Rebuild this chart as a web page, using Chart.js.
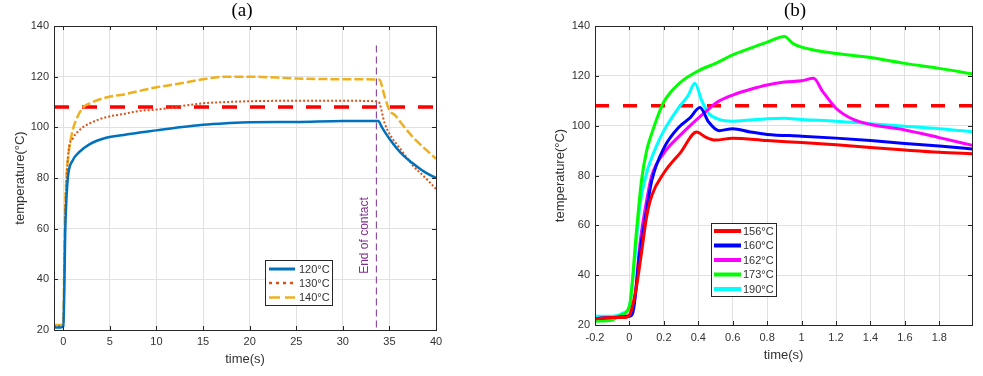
<!DOCTYPE html>
<html><head><meta charset="utf-8">
<script src="https://cdn.jsdelivr.net/npm/chart.js@4/dist/chart.umd.min.js"></script>
<style>
html,body{margin:0;padding:0;background:#fff;width:983px;height:376px;overflow:hidden}
.w{position:absolute;top:0}
</style></head><body>
<div class="w" style="left:0;width:460px;height:376px"><canvas id="ca" width="460" height="376"></canvas></div>
<div class="w" style="left:540px;width:443px;height:376px"><canvas id="cb" width="443" height="376"></canvas></div>
<script>
// ---------- Chart (a) data ----------
const labelsA = ['120°C', '130°C', '140°C'];
const t120 = [-1, -0.3, 0, 0.1, 0.2, 0.3, 0.5, 1, 1.7, 2.8, 4.6, 6.5, 8.2, 10, 12.5, 15, 17.5, 20, 25, 30, 33.8, 34.2, 35, 36.3, 37.5, 38.8, 40];
const v120 = [21, 21, 21.5, 35, 58, 69, 80.5, 86.9, 90.2, 93.3, 95.9, 97, 98, 98.8, 100, 101, 101.6, 102, 102.1, 102.5, 102.5, 100, 95.5, 89.6, 85.8, 82.3, 80];
const t130 = [-1, -0.3, 0, 0.1, 0.2, 0.3, 0.57, 1, 1.7, 2.8, 4.6, 6.5, 8.2, 10, 12.5, 15, 17.5, 20, 25, 30, 33.8, 34.5, 35, 36.3, 37.5, 38.8, 40];
const v130 = [21.5, 21.5, 22, 40, 65, 76, 90.9, 95.5, 98.8, 101.5, 104, 105.3, 106.5, 107, 108.3, 109.5, 110, 110.3, 110.5, 110.5, 110.2, 101.5, 97.5, 90.9, 85, 80.3, 75.7];
const t140 = [-1, -0.3, 0, 0.1, 0.2, 0.3, 0.57, 1, 1.5, 2.1, 2.8, 4.6, 6.5, 8.2, 10, 12.5, 15, 17.5, 20, 25, 30, 33.9, 34.5, 35, 35.6, 36.3, 37.5, 38.8, 40];
const v140 = [22, 22, 23, 45, 68, 78, 89.7, 98.8, 104, 107.8, 109.4, 111.8, 113, 114.4, 115.8, 117.3, 119, 120, 120, 119.3, 119, 118.9, 112, 106.7, 104.8, 101.5, 96.2, 91.6, 87.6];
const thresholdTimeA = [-1, 40];
const thresholdTempA = [108, 108];
const contactTime = [33.6, 33.6];
const contactTemp = [21, 133];
const contactLabel = 'End of contact';
const xTicksA = [0, 5, 10, 15, 20, 25, 30, 35, 40];

// ---------- Chart (b) data ----------
const labelsB = ['156°C', '160°C', '162°C', '173°C', '190°C'];
const t156 = [-0.2, -0.1, -0.03, 0, 0.04, 0.07, 0.1, 0.13, 0.2, 0.3, 0.39, 0.44, 0.5, 0.6, 0.8, 1.0, 1.2, 1.4, 1.6, 1.8, 2.0];
const v156 = [22.5, 23, 23, 24, 35, 49, 63.5, 72, 81, 89.5, 97.5, 95.5, 94.2, 95, 94, 93.2, 92.3, 91.2, 90.2, 89.3, 88.7];
const t160 = [-0.2, -0.1, 0, 0.02, 0.06, 0.09, 0.13, 0.2, 0.29, 0.35, 0.41, 0.46, 0.52, 0.6, 0.7, 0.8, 1.0, 1.2, 1.4, 1.6, 1.8, 2.0];
const v160 = [22.5, 23, 23.5, 25, 49, 62, 78, 91, 99.6, 103, 107.3, 101.5, 98, 98.8, 97.5, 96.5, 95.8, 95, 94, 92.8, 91.8, 90.6];
const t162 = [-0.2, -0.1, 0, 0.03, 0.06, 0.1, 0.13, 0.2, 0.3, 0.4, 0.45, 0.5, 0.6, 0.7, 0.8, 0.9, 1.0, 1.07, 1.12, 1.2, 1.3, 1.4, 1.6, 1.8, 2.0];
const v162 = [22.5, 23, 24, 30, 52, 70, 80, 89, 96.5, 103, 106, 109, 112.3, 114.5, 116.3, 117.5, 118, 119, 114, 107, 102.5, 100.5, 98.3, 95.2, 92];
const t173 = [-0.2, -0.1, -0.05, 0, 0.04, 0.07, 0.1, 0.13, 0.155, 0.2, 0.29, 0.4, 0.5, 0.6, 0.7, 0.8, 0.9, 0.95, 1.0, 1.1, 1.2, 1.4, 1.6, 1.8, 2.0];
const v173 = [21.5, 22, 24, 27.5, 57, 78, 90, 97, 102, 109.6, 117, 122, 125, 128.4, 131, 133.5, 135.8, 133, 131.5, 130, 129, 127.4, 125, 123, 120.7];
const t190 = [-0.2, -0.1, -0.03, 0, 0.03, 0.06, 0.1, 0.155, 0.2, 0.29, 0.34, 0.38, 0.42, 0.46, 0.52, 0.6, 0.8, 0.9, 1.0, 1.2, 1.4, 1.6, 1.8, 2.0];
const v190 = [23.5, 23.5, 25, 27.5, 46, 67.5, 81, 91.5, 98, 107.6, 112, 117, 110, 105, 102.5, 101.8, 102.8, 103, 102.5, 101.8, 100.8, 99.8, 98.8, 97.5];
const thresholdTimeB = [-0.2, 2.0];
const thresholdTempB = [108, 108];

const yTicks = [20, 40, 60, 80, 100, 120, 140];

// ---------- helpers ----------
const pts = (ts, vs) => ts.map((t, i) => ({x: t, y: vs[i]}));
const FONT = '"Liberation Sans", Arial, sans-serif';
const TXT = '#333333';
const AX = '#262626';

const framePlugin = {
  id: 'frame',
  afterDatasetsDraw(chart, args, o) {
    const ctx = chart.ctx, a = chart.chartArea;
    const xs = chart.scales.x, ys = chart.scales.y;
    ctx.save();
    ctx.strokeStyle = AX; ctx.lineWidth = 1;
    ctx.beginPath();
    xs.ticks.forEach(t => {
      const p = Math.round(xs.getPixelForValue(t.value)) + 0.5;
      ctx.moveTo(p, a.bottom); ctx.lineTo(p, a.bottom - 4);
      ctx.moveTo(p, a.top); ctx.lineTo(p, a.top + 4);
    });
    ys.ticks.forEach(t => {
      const p = Math.round(ys.getPixelForValue(t.value)) + 0.5;
      ctx.moveTo(a.left, p); ctx.lineTo(a.left + 4, p);
      ctx.moveTo(a.right, p); ctx.lineTo(a.right - 4, p);
    });
    ctx.stroke();
    ctx.strokeRect(Math.round(a.left) + 0.5, Math.round(a.top) + 0.5, Math.round(a.right - a.left), Math.round(a.bottom - a.top));
    // note text
    if (o.note) {
      const px = xs.getPixelForValue(o.note.x) + o.note.dx;
      ctx.translate(px, o.note.y);
      ctx.rotate(-Math.PI / 2);
      ctx.fillStyle = o.note.color;
      ctx.font = '12px ' + FONT;
      ctx.textAlign = 'center'; ctx.textBaseline = 'middle';
      ctx.fillText(o.note.text, 0, 0);
    }
    ctx.restore();
  },
  afterDraw(chart, args, o) {
    const ctx = chart.ctx;
    ctx.save();
    // panel title
    ctx.fillStyle = '#000';
    ctx.font = '19px "Liberation Serif", "Times New Roman", serif';
    ctx.textAlign = 'center'; ctx.textBaseline = 'middle';
    ctx.fillText(o.title, o.titleX, 11);
    // legend
    const L = o.legend;
    ctx.fillStyle = '#fff';
    ctx.fillRect(L.x, L.y, L.w, L.h);
    ctx.strokeStyle = AX; ctx.lineWidth = 1;
    ctx.strokeRect(L.x + 0.5, L.y + 0.5, L.w, L.h);
    const items = chart.data.datasets.filter(d => d.inLegend);
    ctx.font = '11px ' + FONT;
    ctx.textAlign = 'left'; ctx.textBaseline = 'middle';
    items.forEach((d, i) => {
      const y = L.rows[i];
      ctx.strokeStyle = d.borderColor;
      ctx.lineWidth = d.legendWidth || d.borderWidth;
      ctx.setLineDash(d.legendDash || []);
      ctx.beginPath(); ctx.moveTo(L.x0, y); ctx.lineTo(L.x1, y); ctx.stroke();
      ctx.setLineDash([]);
      ctx.fillStyle = TXT;
      ctx.fillText(d.label, L.tx, y + 0.5);
    });
    ctx.restore();
  }
};

function axes(xmin, xmax, step, yPadTitle, xPadTitle, xTickPad, yWidth, xHeight, fmt) {
  return {
    x: {
      type: 'linear', min: xmin, max: xmax,
      grid: {color: '#e1e1e1', drawTicks: false},
      border: {display: false},
      ticks: {stepSize: step, includeBounds: false, padding: xTickPad, color: TXT, font: {family: FONT, size: 11}, maxRotation: 0, autoSkip: false, callback: fmt},
      title: {display: true, text: 'time(s)', color: TXT, font: {family: FONT, size: 13}, padding: {top: 0, bottom: xPadTitle}},
      afterFit(s) { s.height = xHeight; }
    },
    y: {
      type: 'linear', min: 20, max: 140,
      grid: {color: '#e1e1e1', drawTicks: false},
      border: {display: false},
      ticks: {stepSize: 20, padding: 5, color: TXT, font: {family: FONT, size: 11}},
      title: {display: true, text: 'temperature(°C)', color: TXT, font: {family: FONT, size: 13}, padding: {top: yPadTitle, bottom: 0}},
      afterFit(s) { s.width = yWidth; }
    }
  };
}

const lineBase = {pointRadius: 0, fill: false, cubicInterpolationMode: 'monotone'};

// ---------- Chart (a) ----------
new Chart(document.getElementById('ca'), {
  type: 'line',
  data: {datasets: [
    Object.assign({}, lineBase, {label: labelsA[0], data: pts(t120, v120), borderColor: '#0072BD', borderWidth: 2.5, legendWidth: 3, inLegend: true}),
    Object.assign({}, lineBase, {label: labelsA[1], data: pts(t130, v130), borderColor: '#D95319', borderWidth: 2, borderDash: [2, 2], legendWidth: 2.5, legendDash: [3, 4], inLegend: true}),
    Object.assign({}, lineBase, {label: labelsA[2], data: pts(t140, v140), borderColor: '#EDB120', borderWidth: 2.5, borderDash: [9, 3], legendDash: [11, 5], inLegend: true}),
    Object.assign({}, lineBase, {label: contactLabel, data: pts(contactTime, contactTemp), borderColor: '#7E2F8E', borderWidth: 1, borderDash: [7, 4], cubicInterpolationMode: 'default', tension: 0}),
    Object.assign({}, lineBase, {label: 'threshold', data: pts(thresholdTimeA, thresholdTempA), borderColor: '#FF0000', borderWidth: 3.5, borderDash: [15, 13], tension: 0, cubicInterpolationMode: 'default'})
  ]},
  options: {
    responsive: false, animation: false, devicePixelRatio: 1,
    layout: {padding: {top: 26, right: 24, left: 0, bottom: 0}},
    scales: axes(-1, 40, 5, 12.8, 8.8, 5.4, 54, 46, v => String(v)),
    plugins: {
      legend: {display: false}, tooltip: {enabled: false},
      frame: {title: '(a)', titleX: 242,
        legend: {x: 265, y: 260, w: 67, h: 45, rows: [269, 283, 297.5], x0: 269, x1: 295, tx: 299},
        note: {text: contactLabel, x: 33.6, dx: -12, y: 235.5, color: '#7E2F8E'}}
    }
  },
  plugins: [framePlugin]
});

// ---------- Chart (b) ----------
const colorsB = ['#FF0000', '#0000FF', '#FF00FF', '#00FF00', '#00FFFF'];
const seriesB = [pts(t156, v156), pts(t160, v160), pts(t162, v162), pts(t173, v173), pts(t190, v190)];
new Chart(document.getElementById('cb'), {
  type: 'line',
  data: {datasets: seriesB.map((d, i) => Object.assign({}, lineBase, {label: labelsB[i], data: d, borderColor: colorsB[i], borderWidth: 3, legendWidth: 4, inLegend: true}))
    .concat([Object.assign({}, lineBase, {label: 'threshold', data: pts(thresholdTimeB, thresholdTempB), borderColor: '#FF0000', borderWidth: 3.5, borderDash: [14, 14], tension: 0, cubicInterpolationMode: 'default'})])},
  options: {
    responsive: false, animation: false, devicePixelRatio: 1,
    layout: {padding: {top: 26, right: 11, left: 0, bottom: 0}},
    scales: axes(-0.2, 1.99, 0.2, 12.8, 12.8, 6.4, 55, 51, v => String(Math.round(v * 10) / 10)),
    plugins: {
      legend: {display: false}, tooltip: {enabled: false},
      frame: {title: '(b)', titleX: 255,
        legend: {x: 171, y: 223, w: 65, h: 73, rows: [231, 245.5, 260, 274.5, 289], x0: 174, x1: 201, tx: 203}}
    }
  },
  plugins: [framePlugin]
});
</script>
</body></html>
